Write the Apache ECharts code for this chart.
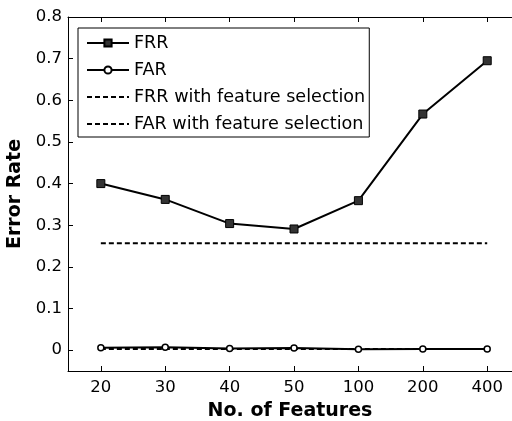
<!DOCTYPE html>
<html>
<head>
<meta charset="utf-8">
<script src="https://cdn.jsdelivr.net/npm/echarts@6/dist/echarts.min.js"></script>
<style>
    html, body { margin: 0; padding: 0; background: #fff; }
    #main { width: 512px; height: 421px; }
</style>
</head>
<body>
<div id="main"></div>
<script>
    // 数据
    const categories = ['20', '30', '40', '50', '100', '200', '400'];
    const frr = [0.400, 0.362, 0.304, 0.291, 0.359, 0.567, 0.695];
    const far = [0.006, 0.007, 0.004, 0.005, 0.002, 0.003, 0.003];
    const frrFs = [0.257, 0.257];
    const farFs = [0.003, 0.003];
    const yTicks = [0, 0.1, 0.2, 0.3, 0.4, 0.5, 0.6, 0.7, 0.8];

    const xPos = categories.map((c, i) => i + 1);
    const toPts = arr => arr.map((v, i) => [xPos[i], v]);
    const ends = arr => [[xPos[0], arr[0]], [xPos[xPos.length - 1], arr[1]]];

    const font = 'DejaVu Sans';
    const myChart = echarts.init(document.getElementById('main'));

    const option = {
        backgroundColor: '#fff',
        animation: false,
        textStyle: { fontFamily: font, color: '#000' },
        grid: { left: 68, right: 0, top: 17, bottom: 50, outerBoundsMode: 'none', containLabel: false },
        legend: {
            left: 78,
            top: 28,
            orient: 'vertical',
            backgroundColor: '#fff',
            borderColor: '#000',
            borderWidth: 1,
            borderRadius: 0,
            padding: [6, 4, 4, 8],
            itemWidth: 42,
            itemHeight: 9,
            itemGap: 9,
            textStyle: { fontFamily: font, fontSize: 17.6, color: '#000' },
            data: [
                'FRR',
                'FAR',
                { name: 'FRR with feature selection', itemStyle: { opacity: 0 } },
                { name: 'FAR with feature selection', itemStyle: { opacity: 0 } }
            ]
        },
        xAxis: [{
            type: 'value',
            min: 0.49,
            max: 7.385,
            name: 'No. of Features',
            nameLocation: 'middle',
            nameGap: 31,
            nameTextStyle: { fontFamily: font, fontSize: 19, fontWeight: 'bold', color: '#000' },
            axisLine: { show: true, onZero: false, lineStyle: { color: '#000', width: 1 } },
            axisTick: { show: true, inside: true, length: 5, customValues: xPos, lineStyle: { color: '#000' } },
            axisLabel: {
                customValues: xPos,
                margin: 8,
                fontFamily: font,
                fontSize: 16.5,
                color: '#000',
                formatter: v => categories[Math.round(v) - 1]
            },
            splitLine: { show: false }
        }, {
            type: 'value',
            position: 'top',
            min: 0.49,
            max: 7.385,
            axisLine: { show: true, onZero: false, lineStyle: { color: '#000', width: 1 } },
            axisTick: { show: true, inside: true, length: 5, customValues: xPos, lineStyle: { color: '#000' } },
            axisLabel: { show: false },
            splitLine: { show: false }
        }],
        yAxis: {
            type: 'value',
            min: -0.05,
            max: 0.8,
            name: 'Error Rate',
            nameLocation: 'middle',
            nameGap: 40,
            nameTextStyle: { fontFamily: font, fontSize: 19, fontWeight: 'bold', color: '#000' },
            axisLine: { show: true, onZero: false, lineStyle: { color: '#000', width: 1 } },
            axisTick: { show: true, inside: true, length: 5, customValues: yTicks, lineStyle: { color: '#000' } },
            axisLabel: {
                customValues: yTicks,
                margin: 6,
                fontFamily: font,
                fontSize: 16.5,
                color: '#000',
                formatter: v => (Math.abs(v) < 1e-9 ? '0' : v.toFixed(1))
            },
            splitLine: { show: false }
        },
        series: [
            {
                name: 'FRR',
                type: 'line',
                data: toPts(frr),
                symbol: 'rect',
                symbolSize: 8,
                lineStyle: { color: '#000', width: 2 },
                itemStyle: { color: '#333', borderColor: '#000', borderWidth: 1 },
                z: 5
            },
            {
                name: 'FAR',
                type: 'line',
                data: toPts(far),
                symbol: 'circle',
                symbolSize: 6,
                lineStyle: { color: '#000', width: 2 },
                itemStyle: { color: '#fff', borderColor: '#000', borderWidth: 1.5 },
                z: 5
            },
            {
                name: 'FRR with feature selection',
                type: 'line',
                data: ends(frrFs),
                symbol: 'none',
                lineStyle: { color: '#000', width: 2, type: [5, 3] },
                itemStyle: { color: '#000' }
            },
            {
                name: 'FAR with feature selection',
                type: 'line',
                data: ends(farFs),
                symbol: 'none',
                lineStyle: { color: '#000', width: 2, type: [5, 3] },
                itemStyle: { color: '#000' }
            }
        ]
    };

    myChart.setOption(option);
</script>
</body>
</html>
